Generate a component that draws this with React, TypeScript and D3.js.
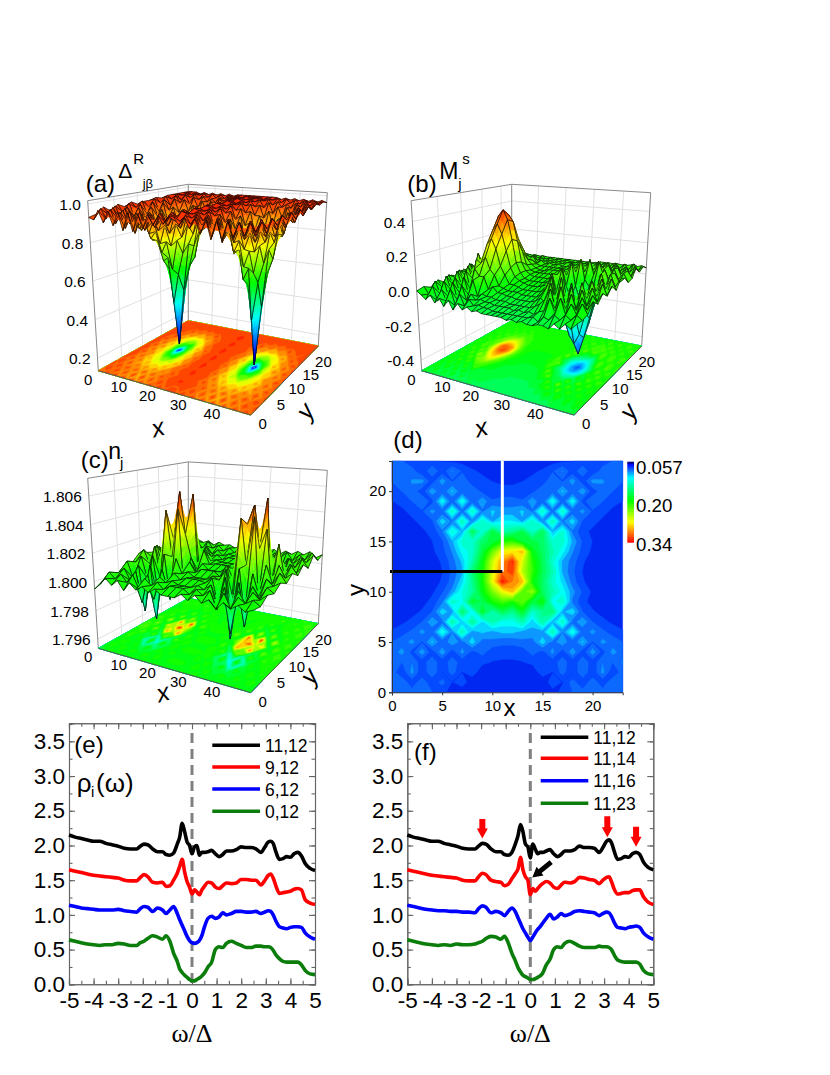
import React, { useRef, useEffect } from "react";
import * as d3 from "d3";

// ---------- surface panels: rows run along y from 0 to 23, columns along x from 0 to the front corner ----------
const xTicks3d = [0, 10, 20, 30, 40];
const yTicks3d = [0, 5, 10, 15, 20];

// panel (a), hundredths
const deltaRows = [
  [93,92,97,91,97,90,97,88,97,88,97,90,97,92,97,93,97, 97,93,97,92,97,90,97,88,97,88,97,90,97,91,97,92],
  [94,97,92,97,90,96,88,97,86,97,88,96,90,97,93,97,94, 94,97,93,97,90,96,88,97,86,97,88,96,90,97,92,97],
  [97,93,97,91,96,90,95,88,95,88,95,90,96,92,97,95,98, 97,95,97,92,96,90,95,88,95,88,95,90,96,91,97,93],
  [94,97,90,96,88,93,86,91,84,91,86,93,89,96,93,97,96, 96,97,93,96,89,93,86,91,84,91,86,93,88,96,90,97],
  [97,93,96,89,93,84,88,80,84,78,88,84,94,92,97,95,98, 97,95,97,90,94,84,88,78,84,80,88,84,93,89,96,93],
  [95,97,90,95,86,88,78,78,72,78,76,88,86,95,94,97,97, 96,97,94,95,86,88,76,78,70,78,78,88,86,95,90,97],
  [97,94,96,89,92,82,80,66,68,62,78,80,92,90,97,95,98, 97,95,97,90,92,80,78,62,68,66,80,82,92,89,96,94],
  [95,97,90,94,84,86,70,60,42,58,70,86,86,95,94,97,97, 96,97,94,95,86,86,70,58,40,60,70,86,84,94,90,97],
  [96,93,96,88,92,80,76,46,17,48,74,80,92,90,97,95,98, 97,95,97,90,92,80,74,48,15,46,76,80,92,88,96,93],
  [96,97,90,95,84,88,70,62,46,60,72,88,86,95,94,97,97, 96,97,94,95,86,88,72,60,44,62,70,88,84,95,90,97],
  [97,94,96,90,92,82,82,68,70,64,80,82,93,92,97,96,98, 97,96,97,92,93,82,80,64,70,68,82,82,92,90,96,94],
  [96,97,92,96,88,90,80,80,74,80,80,90,90,96,95,97,97, 96,97,95,96,90,90,80,80,74,80,80,90,88,96,92,97],
  [97,95,97,93,95,88,92,84,88,84,92,88,95,94,97,96,98, 97,96,97,94,95,88,92,84,88,84,92,88,95,93,97,95],
  [97,97,94,97,92,96,90,94,88,94,90,96,93,97,96,97,97, 97,97,96,97,93,96,90,94,88,94,90,96,92,97,94,97],
  [97,96,97,95,97,94,96,93,95,93,96,94,97,96,97,97,98, 97,97,97,96,97,94,96,93,95,93,96,94,97,95,97,96],
  [97,97,96,97,96,97,95,97,95,97,95,97,96,97,96,97,97, 97,97,96,97,96,97,95,97,95,97,95,97,96,97,96,97],
  [97,97,97,96,97,96,97,96,97,96,97,96,97,97,97,97,97, 97,97,97,97,97,96,97,96,97,96,97,96,97,96,97,96],
];

// panel (b), hundredths
const magRows = [
  [0,-2,-4,-1,-5,-2,-6,-2,-7,-3,-6,-4,-6,-5,-6,-6,-6, -6,-6,-7,-6,-7,-6,-7,-7,-6,-6,-7,-4,-6,-3,-5,-2],
  [1,-3,2,-6,1,-5,2,-7,0,-6,-2,-5,-4,-5,-5,-6,-6, -6,-6,-6,-6,-6,-6,-5,-7,-4,-5,-2,-4,-1,-3,0,-2],
  [-1,3,-4,4,-5,4,-6,3,-5,-1,-4,-3,-4,-4,-5,-5,-5, -5,-6,-5,-6,-5,-6,-4,-3,4,-3,5,-3,3,-2,4,-1],
  [2,-2,5,-3,5,-4,6,-4,5,-4,-2,-3,-3,-4,-4,-4,-5, -5,-5,-5,-5,-4,-2,1,7,-3,9,-2,6,-2,5,-1,4],
  [-1,4,-2,7,-2,8,-3,10,6,6,-1,1,-2,-2,-3,-3,-4, -4,-4,-4,-3,-1,-3,8,-4,12,-3,8,-3,7,-1,5,1],
  [2,1,6,0,9,2,14,12,16,9,6,0,-1,-2,-2,-2,-3, -3,-3,-3,-1,3,10,-4,-2,-6,8,-5,9,1,7,0,5],
  [0,4,1,9,2,16,8,22,26,20,10,5,0,0,-1,-2,-2, -2,-2,-1,2,10,-2,-6,-16,-14,-12,4,-3,9,1,8,2],
  [3,1,7,1,11,6,22,30,34,28,18,8,3,1,0,-1,-1, -1,0,1,8,-2,-8,-18,-26,-30,-24,-12,6,2,9,0,6],
  [1,3,2,9,4,16,28,38,42,36,24,10,4,1,0,0,0, 0,1,3,6,10,-6,-20,-30,-38,-28,-16,-2,10,2,8,2],
  [2,5,1,8,6,14,30,40,38,34,22,9,4,2,1,1,1, 1,1,2,9,-2,-8,-18,-24,-28,-22,-8,8,1,9,2,7],
  [1,2,6,3,10,10,22,28,28,22,14,6,3,2,2,2,2, 2,2,3,3,11,-3,-10,-12,-16,-14,-2,9,2,8,3,6],
  [3,5,2,7,3,11,12,18,18,14,8,5,3,2,2,3,3, 3,3,3,5,4,12,0,-4,-2,-6,8,2,9,3,7,2],
  [1,2,6,2,8,4,10,6,11,6,6,4,3,3,3,3,3, 3,3,4,3,7,3,11,2,10,3,9,3,8,2,7,3],
  [3,5,1,6,2,7,3,8,4,7,3,5,3,4,3,4,3, 3,4,3,5,3,6,3,9,5,9,4,8,3,7,2,8],
  [1,3,5,2,6,2,6,3,6,3,5,3,4,3,4,3,4, 4,3,4,3,5,4,6,4,6,4,7,3,6,3,7,4],
  [2,4,2,5,2,5,3,5,3,5,3,4,3,4,3,4,3, 3,4,3,4,4,5,4,5,4,6,3,6,3,7,3,6],
  [2,3,2,4,2,3,3,3,3,3,3,3,3,3,3,3,3, 3,3,3,3,3,4,4,4,4,4,4,4,5,4,5,4],
];

// panel (c), units of 1e-4 away from 1.8
const densRows = [
  [-5,-1,4,0,4,-2,4,0,3,0,3,0,0,0,3,0,4,0,3,-2,3,0,3,0,2],
  [-1,5,1,5,0,6,-3,5,1,4,0,3,3,3,0,4,1,5,-6,5,-4,4,1,4,1],
  [-3,2,6,-2,5,-16,4,-12,4,1,3,1,1,1,3,1,5,-10,5,-24,4,-3,5,1,5],
  [1,8,-4,6,-26,8,-30,6,-8,5,1,3,3,3,2,6,-12,8,-32,6,-22,5,-2,6,3],
  [2,5,10,-6,12,-20,14,-18,12,2,4,1,1,1,4,2,10,-22,12,-20,10,-4,8,4,7],
  [8,12,2,16,-8,44,10,46,-10,8,1,4,4,4,1,10,-10,44,12,46,-10,14,2,10,4],
  [7,4,14,-6,30,20,57,25,8,-2,5,1,1,1,5,-2,14,38,52,22,36,-6,12,4,8],
  [5,10,1,22,-8,46,8,54,-4,12,2,3,3,3,2,14,-6,50,5,56,-6,24,2,10,4],
  [1,3,9,-2,16,-6,20,-3,10,2,3,2,2,2,3,2,12,-5,22,-8,18,-2,8,2,9],
  [-1,6,2,8,-3,12,-4,9,2,4,1,3,3,3,1,4,3,10,-5,12,-3,9,3,10,4],
  [-2,1,5,2,6,-2,7,1,5,1,3,2,2,2,3,1,6,2,8,-2,6,3,8,5,11],
  [0,8,3,7,2,8,3,6,2,5,2,4,4,4,3,5,2,6,3,8,2,7,4,10,5],
  [2,3,6,4,6,3,6,4,5,3,5,3,3,3,5,4,6,3,6,4,7,5,8,4,7],
];

const deltaTicks = [0.2, 0.4, 0.6, 0.8, 1.0];
const magTicks = [-0.4, -0.2, 0.0, 0.2, 0.4];
const densTicks = [1.796, 1.798, 1.8, 1.802, 1.804, 1.806];

// ---------- panel (d): rows run y = 23 .. 0, columns x = 0 .. 23, thousandths ----------
const ldosRows = [
  [85,80,72,70,70,68,66,64,62,62,62,62,62,62,62,62,64,66,68,70,72,74,80,85],
  [90,88,85,70,90,72,92,78,70,66,64,62,62,64,66,70,78,92,72,90,70,85,88,90],
  [80,85,92,95,72,98,78,90,72,72,68,66,66,68,72,72,90,78,98,72,95,92,85,80],
  [75,80,88,72,100,80,105,80,90,76,78,72,72,78,76,90,80,105,80,100,72,88,80,75],
  [68,72,80,90,75,120,80,125,80,100,80,85,85,80,100,80,125,80,120,75,90,80,72,68],
  [62,66,72,78,95,82,135,85,135,88,105,95,95,105,88,135,85,135,82,95,78,72,66,62],
  [60,62,66,72,78,110,88,140,90,135,100,115,115,100,135,90,140,88,110,78,72,66,62,60],
  [60,60,62,66,72,88,130,100,170,125,175,140,150,170,130,170,100,130,88,72,66,62,60,60],
  [60,60,60,62,68,78,100,130,130,165,175,200,210,180,175,165,130,130,100,78,68,62,60,60],
  [60,60,60,60,66,75,92,118,130,175,225,270,275,290,190,165,140,118,92,75,66,60,60,60],
  [60,60,60,60,62,70,85,105,140,190,255,300,330,260,205,170,130,100,85,70,62,60,60,60],
  [60,60,60,60,62,68,82,100,160,195,260,310,325,250,210,170,140,100,82,68,62,60,60,60],
  [60,60,60,60,62,70,85,110,150,195,265,335,305,290,195,165,130,110,85,70,62,60,60,60],
  [60,60,60,60,66,78,95,125,145,190,230,265,290,220,240,165,140,120,95,78,66,60,60,60],
  [60,60,60,64,72,88,135,120,185,170,200,215,200,225,175,195,120,135,88,72,64,60,60,60],
  [60,60,64,70,80,110,95,165,115,185,140,170,150,185,130,150,160,100,110,80,70,64,60,60],
  [62,66,72,80,100,85,145,105,150,110,140,120,120,140,105,145,100,135,85,100,80,72,66,62],
  [70,76,82,95,82,125,90,140,95,105,98,105,105,98,100,95,140,90,125,82,95,82,76,70],
  [80,85,95,78,105,80,100,85,110,85,88,82,82,88,85,110,85,100,80,105,78,95,85,80],
  [85,95,75,98,72,100,72,95,75,85,72,75,75,72,85,75,95,72,100,72,98,75,95,85],
  [92,80,90,72,90,70,88,72,80,70,68,66,66,68,70,80,72,88,70,90,72,90,80,92],
  [85,70,95,70,90,68,85,68,72,64,62,60,60,62,64,72,68,85,68,90,70,95,70,85],
  [90,88,72,88,70,85,68,72,64,62,60,60,60,60,62,64,72,68,85,70,88,72,88,90],
  [90,88,85,85,80,70,66,64,62,58,62,58,62,58,62,64,66,70,80,85,85,85,88,90],
];
const mapTicks = [0, 5, 10, 15, 20];
const barTicks = ["0.057", "0.20", "0.34"];

// ---------- panels (e), (f) ----------
const omega = [
  -5,-4.75,-4.5,-4.25,-4,-3.75,-3.5,-3.25,-3,-2.75,
  -2.5,-2.25,-2.1,-1.95,-1.8,-1.6,-1.4,-1.2,-1.05,-0.9,
  -0.75,-0.6,-0.5,-0.4,-0.3,-0.2,-0.1,0,0.1,0.2,
  0.3,0.4,0.5,0.65,0.8,0.95,1.1,1.25,1.4,1.6,
  1.8,2,2.2,2.4,2.6,2.8,2.95,3.1,3.2,3.3,
  3.4,3.55,3.7,3.85,4,4.15,4.3,4.45,4.6,4.8,
  5,
];
const rhoE1112 = [
  2.15,2.12,2.10,2.08,2.06,2.06,2.03,2.01,1.99,1.96,
  1.95,1.95,1.99,2.02,2.01,1.95,1.91,1.91,1.87,1.86,
  1.89,2.02,2.12,2.32,2.20,2.05,2.0,1.88,1.98,2.0,
  1.86,1.90,1.90,1.91,1.93,1.88,1.84,1.87,1.92,1.92,
  1.94,1.98,1.97,1.97,1.95,1.90,1.97,2.05,2.06,2.03,
  1.92,1.80,1.81,1.84,1.83,1.88,1.90,1.85,1.74,1.67,
  1.64,
];
const rhoE912 = [
  1.65,1.63,1.61,1.59,1.57,1.56,1.55,1.54,1.53,1.50,
  1.49,1.49,1.54,1.58,1.55,1.47,1.46,1.47,1.41,1.42,
  1.50,1.60,1.70,1.80,1.62,1.48,1.40,1.30,1.36,1.33,
  1.29,1.36,1.41,1.47,1.46,1.40,1.38,1.42,1.46,1.45,
  1.46,1.51,1.51,1.50,1.50,1.43,1.49,1.57,1.59,1.53,
  1.43,1.31,1.32,1.33,1.34,1.37,1.38,1.36,1.22,1.17,
  1.15,
];
const rhoE612 = [
  1.14,1.12,1.10,1.09,1.08,1.07,1.07,1.07,1.08,1.06,
  1.05,1.04,1.09,1.12,1.11,1.05,1.10,1.07,1.02,1.07,
  1.12,1.02,0.93,0.85,0.77,0.69,0.63,0.60,0.59,0.60,
  0.63,0.70,0.82,0.95,0.98,0.95,0.97,1.03,1.0,1.02,
  1.05,1.05,1.04,1.04,1.05,1.02,1.04,1.06,1.05,1.0,
  0.92,0.83,0.81,0.80,0.82,0.83,0.83,0.82,0.74,0.68,
  0.65,
];
const rhoE012 = [
  0.64,0.62,0.60,0.58,0.57,0.56,0.57,0.57,0.59,0.58,
  0.56,0.56,0.60,0.62,0.66,0.70,0.68,0.65,0.70,0.62,
  0.45,0.33,0.22,0.17,0.13,0.10,0.07,0.05,0.05,0.07,
  0.09,0.12,0.16,0.25,0.32,0.50,0.54,0.53,0.59,0.62,
  0.59,0.56,0.53,0.53,0.55,0.55,0.54,0.54,0.53,0.49,
  0.43,0.37,0.33,0.32,0.32,0.32,0.32,0.28,0.20,0.15,
  0.14,
];
const rhoF1112 = [
  2.15,2.12,2.10,2.08,2.06,2.06,2.03,2.01,1.99,1.96,
  1.95,1.95,1.99,2.03,2.02,1.95,1.91,1.91,1.87,1.86,
  1.90,2.03,2.14,2.30,2.20,2.02,1.98,1.82,2.02,1.95,
  1.88,1.90,1.90,1.92,1.94,1.88,1.84,1.87,1.92,1.92,
  1.94,1.99,1.97,1.97,1.96,1.90,1.97,2.06,2.08,2.04,
  1.93,1.80,1.81,1.84,1.83,1.88,1.90,1.87,1.76,1.68,
  1.65,
];
const rhoF1114 = [
  1.65,1.63,1.61,1.59,1.57,1.56,1.55,1.54,1.53,1.50,
  1.49,1.49,1.55,1.60,1.58,1.50,1.48,1.47,1.42,1.44,
  1.52,1.60,1.66,1.83,1.65,1.55,1.50,1.29,1.38,1.34,
  1.38,1.42,1.45,1.48,1.46,1.40,1.38,1.43,1.47,1.46,
  1.48,1.54,1.53,1.51,1.50,1.45,1.50,1.54,1.55,1.48,
  1.38,1.30,1.31,1.32,1.32,1.35,1.36,1.36,1.26,1.18,
  1.15,
];
const rhoF1116 = [
  1.14,1.12,1.10,1.08,1.07,1.06,1.06,1.05,1.05,1.04,
  1.04,1.03,1.09,1.13,1.11,1.03,1.05,1.03,0.99,1.05,
  1.10,1.04,0.96,0.88,0.80,0.74,0.68,0.63,0.68,0.74,
  0.79,0.83,0.88,0.95,1.01,0.94,0.97,1.02,0.99,1.01,
  1.05,1.06,1.05,1.04,1.03,0.99,1.02,1.04,1.03,0.98,
  0.90,0.82,0.81,0.80,0.82,0.83,0.84,0.82,0.74,0.68,
  0.65,
];
const rhoF1123 = [
  0.64,0.62,0.60,0.58,0.57,0.56,0.57,0.56,0.58,0.57,
  0.57,0.58,0.60,0.62,0.66,0.69,0.68,0.65,0.69,0.60,
  0.45,0.33,0.24,0.18,0.13,0.11,0.09,0.07,0.07,0.08,
  0.10,0.12,0.16,0.28,0.36,0.50,0.54,0.53,0.59,0.62,
  0.59,0.55,0.53,0.53,0.53,0.55,0.54,0.54,0.53,0.50,
  0.43,0.35,0.33,0.32,0.32,0.32,0.32,0.29,0.20,0.15,
  0.14,
];
const seriesColors = ["#000000", "#ff0000", "#0000ff", "#0a7d0a"];
const labelsE = ["11,12", "9,12", "6,12", "0,12"];
const labelsF = ["11,12", "11,14", "11,16", "11,23"];
const omegaTicks = [-5, -4, -3, -2, -1, 0, 1, 2, 3, 4, 5];
const rhoTicks = [0, 0.5, 1, 1.5, 2, 2.5, 3, 3.5];
const redArrowOmega = [-1.95, 3.13, 4.3];
const redArrowTip = [2.1, 2.12, 1.98];
const redArrowTail = [2.38, 2.42, 2.27];

const SANS = "'Liberation Sans', Arial, sans-serif";
const SERIF = "'Liberation Serif', serif";

const rainbow = ["#0000ff", "#00ffff", "#00ff00", "#ffff00", "#ff0000"];

type Pt = [number, number];

// unit square -> quad (corners at uv 00, 10, 11, 01)
function homography(p0: Pt, p1: Pt, p2: Pt, p3: Pt) {
  const dx1 = p1[0] - p2[0], dx2 = p3[0] - p2[0], sx = p0[0] - p1[0] + p2[0] - p3[0];
  const dy1 = p1[1] - p2[1], dy2 = p3[1] - p2[1], sy = p0[1] - p1[1] + p2[1] - p3[1];
  const det = dx1 * dy2 - dx2 * dy1;
  const g = (sx * dy2 - dx2 * sy) / det;
  const h = (dx1 * sy - sx * dy1) / det;
  const a = p1[0] - p0[0] + g * p1[0], b = p3[0] - p0[0] + h * p3[0];
  const d = p1[1] - p0[1] + g * p1[1], e = p3[1] - p0[1] + h * p3[1];
  return (u: number, v: number): Pt => {
    const w = g * u + h * v + 1;
    return [(a * u + b * v + p0[0]) / w, (d * u + e * v + p0[1]) / w];
  };
}

function addText(g: any, x: number, y: number, s: string, size: number, opts: any = {}) {
  return g
    .append("text")
    .attr("x", x)
    .attr("y", y)
    .attr("font-family", opts.family || SANS)
    .attr("font-size", size)
    .attr("font-style", opts.style || "normal")
    .attr("text-anchor", opts.anchor || "start")
    .attr("transform", opts.rotate ? `rotate(${opts.rotate} ${x} ${y})` : null)
    .text(s);
}

function drawSurface(svg: any, rows: number[][], zOf: (v: number) => number, zDomain: number[], colorDomain: number[], ticks: number[], fmt: (v: number) => string, dx: number, dy: number) {
  const g = svg.append("g");
  const off = (p: Pt): Pt => [p[0] + dx, p[1] + dy];
  const floorAt = homography(off([98.3, 370.7]), off([250.7, 415]), off([318.3, 346]), off([188.3, 320.7]));
  const topAt = homography(off([87.7, 200.7]), off([256.7, 213]), off([327.3, 192.7]), off([188.3, 184.3]));
  const w = d3.scaleLinear().domain(zDomain).range([0, 1]);
  const project = (u: number, v: number, z: number): Pt => {
    const f = floorAt(u, v), t = topAt(u, v), k = w(z);
    return [f[0] + (t[0] - f[0]) * k, f[1] + (t[1] - f[1]) * k];
  };
  const uOf = d3.scaleLinear().domain([0, 49]).range([0, 1]);
  const vOf = d3.scaleLinear().domain([0, 23]).range([0, 1]);
  const color = d3.scaleLinear<string>().domain(colorDomain).range(rainbow).clamp(true);
  const poly = d3.line();

  // back walls
  const walls = g.append("g").attr("stroke", "#dcdcdc").attr("stroke-width", 0.9).attr("fill", "none");
  const segs: [Pt, Pt][] = [];
  ticks.forEach((z) => {
    segs.push([project(0, 0, z), project(0, 1, z)]);
    segs.push([project(0, 1, z), project(1, 1, z)]);
  });
  yTicks3d.slice(1).forEach((t) => segs.push([project(0, vOf(t), zDomain[0]), project(0, vOf(t), zDomain[1])]));
  xTicks3d.slice(1).forEach((t) => segs.push([project(uOf(t), 1, zDomain[0]), project(uOf(t), 1, zDomain[1])]));
  walls.selectAll("path").data(segs).join("path").attr("d", (s: any) => poly(s));

  const frame: [Pt, Pt][] = [
    [project(0, 0, zDomain[0]), project(0, 0, zDomain[1])],
    [project(0, 1, zDomain[0]), project(0, 1, zDomain[1])],
    [project(1, 1, zDomain[0]), project(1, 1, zDomain[1])],
    [project(0, 0, zDomain[1]), project(0, 1, zDomain[1])],
    [project(0, 1, zDomain[1]), project(1, 1, zDomain[1])],
    [project(0, 0, zDomain[0]), project(0, 1, zDomain[0])],
    [project(0, 1, zDomain[0]), project(1, 1, zDomain[0])],
  ];
  g.append("g").attr("stroke", "#8a8a8a").attr("stroke-width", 1).attr("fill", "none")
    .selectAll("path").data(frame).join("path").attr("d", (s: any) => poly(s));

  // floor: contour map of the same values
  const ny = rows.length, nx = rows[0].length;
  const flat = rows.flat().map(zOf);
  const thresholds = d3.range(0, 30).map((i) => colorDomain[0] + ((colorDomain[4] - colorDomain[0]) * i) / 29);
  const contours = d3.contours().size([nx, ny]).smooth(true).thresholds(thresholds)(flat);
  const floorPath = d3.geoPath(
    d3.geoTransform({
      point(this: any, cx: number, cy: number) {
        const u = Math.max(0, Math.min(1, (cx - 0.5) / (nx - 1)));
        const v = Math.max(0, Math.min(1, (cy - 0.5) / (ny - 1)));
        const p = floorAt(u, v);
        this.stream.point(p[0], p[1]);
      },
    })
  );
  const floorG = g.append("g");
  floorG.selectAll("path").data(contours).join("path")
    .attr("d", floorPath as any)
    .attr("fill", (c: any) => color(c.value))
    .attr("stroke", (c: any) => color(c.value))
    .attr("stroke-width", 0.3);
  g.append("g").attr("stroke", "#555").attr("stroke-width", 1).attr("fill", "none")
    .selectAll("path")
    .data([[floorAt(0, 0), floorAt(1, 0)], [floorAt(1, 0), floorAt(1, 1)]] as Pt[][])
    .join("path").attr("d", (s: any) => poly(s));

  // mesh, far cells first; tall facets get split so that the colour runs down them
  const span = colorDomain[4] - colorDomain[0];
  const items: { d: string; fill: string; stroke: string; sw: number }[] = [];
  for (let i = 0; i < nx - 1; i++) {
    for (let j = ny - 2; j >= 0; j--) {
      const z00 = zOf(rows[j][i]), z10 = zOf(rows[j][i + 1]), z11 = zOf(rows[j + 1][i + 1]), z01 = zOf(rows[j + 1][i]);
      const range = d3.max([z00, z10, z11, z01])! - d3.min([z00, z10, z11, z01])!;
      const n = Math.max(1, Math.min(6, Math.ceil(range / (span / 12))));
      const zAt = (s: number, t: number) => z00 * (1 - s) * (1 - t) + z10 * s * (1 - t) + z11 * s * t + z01 * (1 - s) * t;
      const at = (s: number, t: number): Pt => project((i + s) / (nx - 1), (j + t) / (ny - 1), zAt(s, t));
      for (let a = 0; a < n; a++) {
        for (let b = 0; b < n; b++) {
          const s0 = a / n, s1 = (a + 1) / n, t0 = b / n, t1 = (b + 1) / n;
          const c = color(zAt((s0 + s1) / 2, (t0 + t1) / 2));
          items.push({ d: poly([at(s0, t0), at(s1, t0), at(s1, t1), at(s0, t1)])! + "Z", fill: c, stroke: c, sw: 0.4 });
        }
      }
      items.push({ d: poly([at(0, 0), at(1, 0), at(1, 1), at(0, 1)])! + "Z", fill: "none", stroke: "#000", sw: 0.65 });
    }
  }
  g.append("g").selectAll("path").data(items).join("path")
    .attr("d", (c: any) => c.d)
    .attr("fill", (c: any) => c.fill)
    .attr("stroke", (c: any) => c.stroke)
    .attr("stroke-width", (c: any) => c.sw);

  // tick labels
  ticks.forEach((t) => {
    const p = project(0, 0, t);
    addText(g, p[0] - 7, p[1] + 6, fmt(t), 15.5, { anchor: "end" });
  });
  xTicks3d.forEach((t) => {
    const p = floorAt(uOf(t), 0);
    addText(g, p[0] - 6, p[1] + 14, String(t), 15, { anchor: t === 0 ? "end" : "middle" });
  });
  yTicks3d.forEach((t) => {
    const p = floorAt(1, vOf(t));
    addText(g, p[0] + 12, p[1] + 14, String(t), 15, { anchor: "middle" });
  });
}

function drawMap(svg: any) {
  const x = d3.scaleLinear().domain([0, 23]).range([392, 622.7]);
  const y = d3.scaleLinear().domain([0, 23]).range([692.3, 461]);
  const color = d3.scaleLinear<string>()
    .domain([57, 62, 85, 110, 190, 266, 335])
    .range(["#0028f0", "#0038ff", "#1078ff", "#00ffff", "#00ff00", "#ffff00", "#ff0000"])
    .clamp(true);
  const thresholds = d3.range(0, 26).map((i) => 57 + (i * 283) / 25);
  const contours = d3.contours().size([24, 24]).smooth(true).thresholds(thresholds)(ldosRows.flat());
  const path = d3.geoPath(
    d3.geoTransform({
      point(this: any, cx: number, cy: number) {
        this.stream.point(x(Math.max(0, Math.min(23, cx - 0.5))), y(23 - Math.max(0, Math.min(23, cy - 0.5))));
      },
    })
  );
  const g = svg.append("g");
  g.append("g").selectAll("path").data(contours).join("path")
    .attr("d", path as any)
    .attr("fill", (c: any) => color(c.value))
    .attr("stroke", (c: any) => color(c.value))
    .attr("stroke-width", 0.3);

  // cuts along which (e) and (f) are taken
  g.append("path").attr("d", d3.line()([[x(11), y(12)], [x(11), y(23)]])).attr("stroke", "#fff").attr("stroke-width", 3).attr("fill", "none");
  g.append("path").attr("d", d3.line()([[x(-0.2), y(12)], [x(11), y(12)]])).attr("stroke", "#000").attr("stroke-width", 3).attr("fill", "none");

  const xAxis = g.append("g").attr("transform", "translate(0,692.3)")
    .call(d3.axisBottom(x).tickValues(mapTicks).tickSize(3).tickFormat((d: any) => String(d)));
  const yAxis = g.append("g").attr("transform", "translate(392,0)")
    .call(d3.axisLeft(y).tickValues(mapTicks).tickSize(3).tickFormat((d: any) => String(d)));
  [xAxis, yAxis].forEach((a) => a.attr("font-family", SANS).attr("font-size", 15).selectAll("path,line").attr("stroke", "#333"));
  xAxis.selectAll("text").attr("y", 8);
  addText(g, 509.5, 716, "x", 24, { anchor: "middle" });
  addText(g, 364, 590, "y", 24, { anchor: "middle", rotate: -90 });

  // colour bar
  const barColor = d3.scaleLinear<string>()
    .domain([57, 62, 85, 110, 190, 266, 335])
    .range(["#000080", "#0000ff", "#1078ff", "#00ffff", "#00ff00", "#ffff00", "#ff0000"])
    .clamp(true);
  const bar = d3.scaleLinear().domain([57, 340]).range([461.7, 542.3]);
  g.append("g").selectAll("rect").data(d3.range(57, 340, 283 / 40)).join("rect")
    .attr("x", 627.3).attr("width", 6.7)
    .attr("y", (v: number) => bar(v))
    .attr("height", 283 / 40 * (80.6 / 283) + 0.4)
    .attr("fill", (v: number) => barColor(v));
  barTicks.forEach((s, i) => addText(g, 636, [473.5, 511.5, 551][i], s, 18.7));
}

function drawSpectrum(svg: any, left: number, series: number[][], labels: string[], legend: { x0: number; x1: number; tx: number; ys: number[] }) {
  const right = left + 246, top = 723.3, bottom = 984.3;
  const x = d3.scaleLinear().domain([-5, 5]).range([left, right]);
  const y = d3.scaleLinear().domain([0, 3.76]).range([bottom, top]);
  const g = svg.append("g");

  const minorX = d3.range(-5, 5.01, 0.5), minorY = d3.range(0, 3.76, 0.25);
  const place = (axis: any, tx: number, ty: number) => {
    const a = g.append("g").attr("transform", `translate(${tx},${ty})`).call(axis);
    a.selectAll("path,line").attr("stroke", "#666").attr("stroke-width", 1.1);
    return a;
  };
  place(d3.axisBottom(x).tickValues(minorX).tickSize(-3.5).tickFormat(() => ""), 0, bottom);
  place(d3.axisTop(x).tickValues(minorX).tickSize(-3.5).tickFormat(() => ""), 0, top);
  place(d3.axisLeft(y).tickValues(minorY).tickSize(-3.5).tickFormat(() => ""), left, 0);
  place(d3.axisRight(y).tickValues(minorY).tickSize(-3.5).tickFormat(() => ""), right, 0);
  place(d3.axisTop(x).tickValues(omegaTicks).tickSize(-6).tickFormat(() => ""), 0, top);
  place(d3.axisRight(y).tickValues(rhoTicks).tickSize(-6).tickFormat(() => ""), right, 0);
  const bx = place(d3.axisBottom(x).tickValues(omegaTicks).tickSize(-6).tickPadding(8).tickFormat((d: any) => String(d)), 0, bottom);
  const by = place(d3.axisLeft(y).tickValues(rhoTicks).tickSize(-6).tickPadding(4).tickFormat((d: any) => d.toFixed(1)), left, 0);
  [bx, by].forEach((a) => a.attr("font-family", SANS).attr("font-size", 22.5).selectAll("text").attr("fill", "#000"));

  g.append("path")
    .attr("d", d3.line()([[x(0), y(3.62)], [x(0), bottom]]))
    .attr("stroke", "#808080").attr("stroke-width", 3).attr("stroke-dasharray", "10,6").attr("fill", "none");

  const line = d3.line<number>().x((_, i) => x(omega[i])).y((v) => y(v)).curve(d3.curveMonotoneX);
  g.selectAll(".rho").data(series).join("path")
    .attr("class", "rho")
    .attr("d", (s: number[]) => line(s))
    .attr("fill", "none")
    .attr("stroke", (_: any, i: number) => seriesColors[i])
    .attr("stroke-width", 3.6);

  labels.forEach((s, i) => {
    g.append("path").attr("d", d3.line()([[legend.x0, legend.ys[i]], [legend.x1, legend.ys[i]]]))
      .attr("stroke", seriesColors[i]).attr("stroke-width", 3.6);
    addText(g, legend.tx, legend.ys[i] + 6.5, s, 17.5);
  });
  addText(g, (left + right) / 2, 1042, "ω/Δ", 26, { anchor: "middle", family: SERIF });
  return { x, y, g };
}

// block arrow, tip to tail, in pixels
function arrowPath(tip: Pt, tail: Pt, headLen: number, headW: number, shaftW: number) {
  const dx = tail[0] - tip[0], dy = tail[1] - tip[1], len = Math.hypot(dx, dy);
  const ux = dx / len, uy = dy / len, nx = -uy, ny = ux;
  const b: Pt = [tip[0] + ux * headLen, tip[1] + uy * headLen];
  const pts: Pt[] = [
    tip,
    [b[0] + (nx * headW) / 2, b[1] + (ny * headW) / 2],
    [b[0] + (nx * shaftW) / 2, b[1] + (ny * shaftW) / 2],
    [tail[0] + (nx * shaftW) / 2, tail[1] + (ny * shaftW) / 2],
    [tail[0] - (nx * shaftW) / 2, tail[1] - (ny * shaftW) / 2],
    [b[0] - (nx * shaftW) / 2, b[1] - (ny * shaftW) / 2],
    [b[0] - (nx * headW) / 2, b[1] - (ny * headW) / 2],
  ];
  return d3.line()(pts) + "Z";
}

export default function App() {
  const svgRef = useRef<SVGSVGElement>(null);

  useEffect(() => {
    const svg = d3.select(svgRef.current);
    svg.selectAll("*").remove();

    const one = (v: number) => v.toFixed(1);
    const three = (v: number) => v.toFixed(3);
    drawSurface(svg, deltaRows, (v) => v / 100, [0.136, 1.017], [0.2, 0.4, 0.6, 0.8, 1.0], deltaTicks, one, 0, 0);
    drawSurface(svg, magRows, (v) => v / 100, [-0.46, 0.52], [-0.46, -0.23, 0, 0.23, 0.46], magTicks, one, 323.4, 0);
    drawSurface(svg, densRows, (v) => 1.8 + v / 10000, [1.79537, 1.80723], [1.794, 1.797, 1.8, 1.803, 1.806], densTicks, three, 0, 277.6);
    drawMap(svg);

    drawSpectrum(svg, 69, [rhoE1112, rhoE912, rhoE612, rhoE012], labelsE, { x0: 212.3, x1: 260, tx: 265, ys: [745.3, 767, 789, 811.3] });
    const f = drawSpectrum(svg, 407.3, [rhoF1112, rhoF1114, rhoF1116, rhoF1123], labelsF, { x0: 540.7, x1: 588.3, tx: 593.3, ys: [737.3, 758.3, 780.7, 803.3] });
    redArrowOmega.forEach((w, i) => {
      f.g.append("path")
        .attr("d", arrowPath([f.x(w), f.y(redArrowTip[i])], [f.x(w), f.y(redArrowTail[i])], 10, 11, 6))
        .attr("fill", "#ff0000");
    });
    f.g.append("path")
      .attr("d", arrowPath([f.x(0.08), f.y(1.54)], [f.x(0.85), f.y(1.76)], 10, 11, 5))
      .attr("fill", "#000");

    // panel titles
    const t = svg.append("g");
    addText(t, 85.7, 191.7, "(a)", 24);
    addText(t, 118.3, 178.3, "Δ", 21);
    addText(t, 133.3, 164, "R", 15);
    addText(t, 142.7, 188.3, "jβ", 13);
    addText(t, 407.3, 191.7, "(b)", 24);
    addText(t, 439.3, 179, "M", 23);
    addText(t, 462.3, 164.3, "s", 15);
    addText(t, 458.3, 189.3, "j", 15);
    addText(t, 80.7, 467.7, "(c)", 24);
    addText(t, 108.3, 459.3, "n", 23);
    addText(t, 120, 468.3, "j", 15);
    addText(t, 393.3, 448, "(d)", 24);
    addText(t, 74.3, 752.7, "(e)", 24);
    addText(t, 76.7, 791.7, "ρ", 26);
    addText(t, 91, 797, "i", 15);
    addText(t, 96, 791.7, "(ω)", 26);
    addText(t, 414, 760, "(f)", 24);

    // slanted axis titles of the 3D boxes
    [[160, 436, 312, 416], [483.4, 436, 635.4, 416], [165, 701, 316, 681]].forEach(([xx, xy, yx, yy]) => {
      addText(t, xx, xy, "x", 25, { anchor: "middle", style: "italic", rotate: -15 });
      addText(t, yx, yy, "y", 25, { anchor: "middle", style: "italic", rotate: -55 });
    });
  }, []);

  return <svg ref={svgRef} width={830} height={1075} style={{ position: "absolute", left: 0, top: 0 }} />;
}
